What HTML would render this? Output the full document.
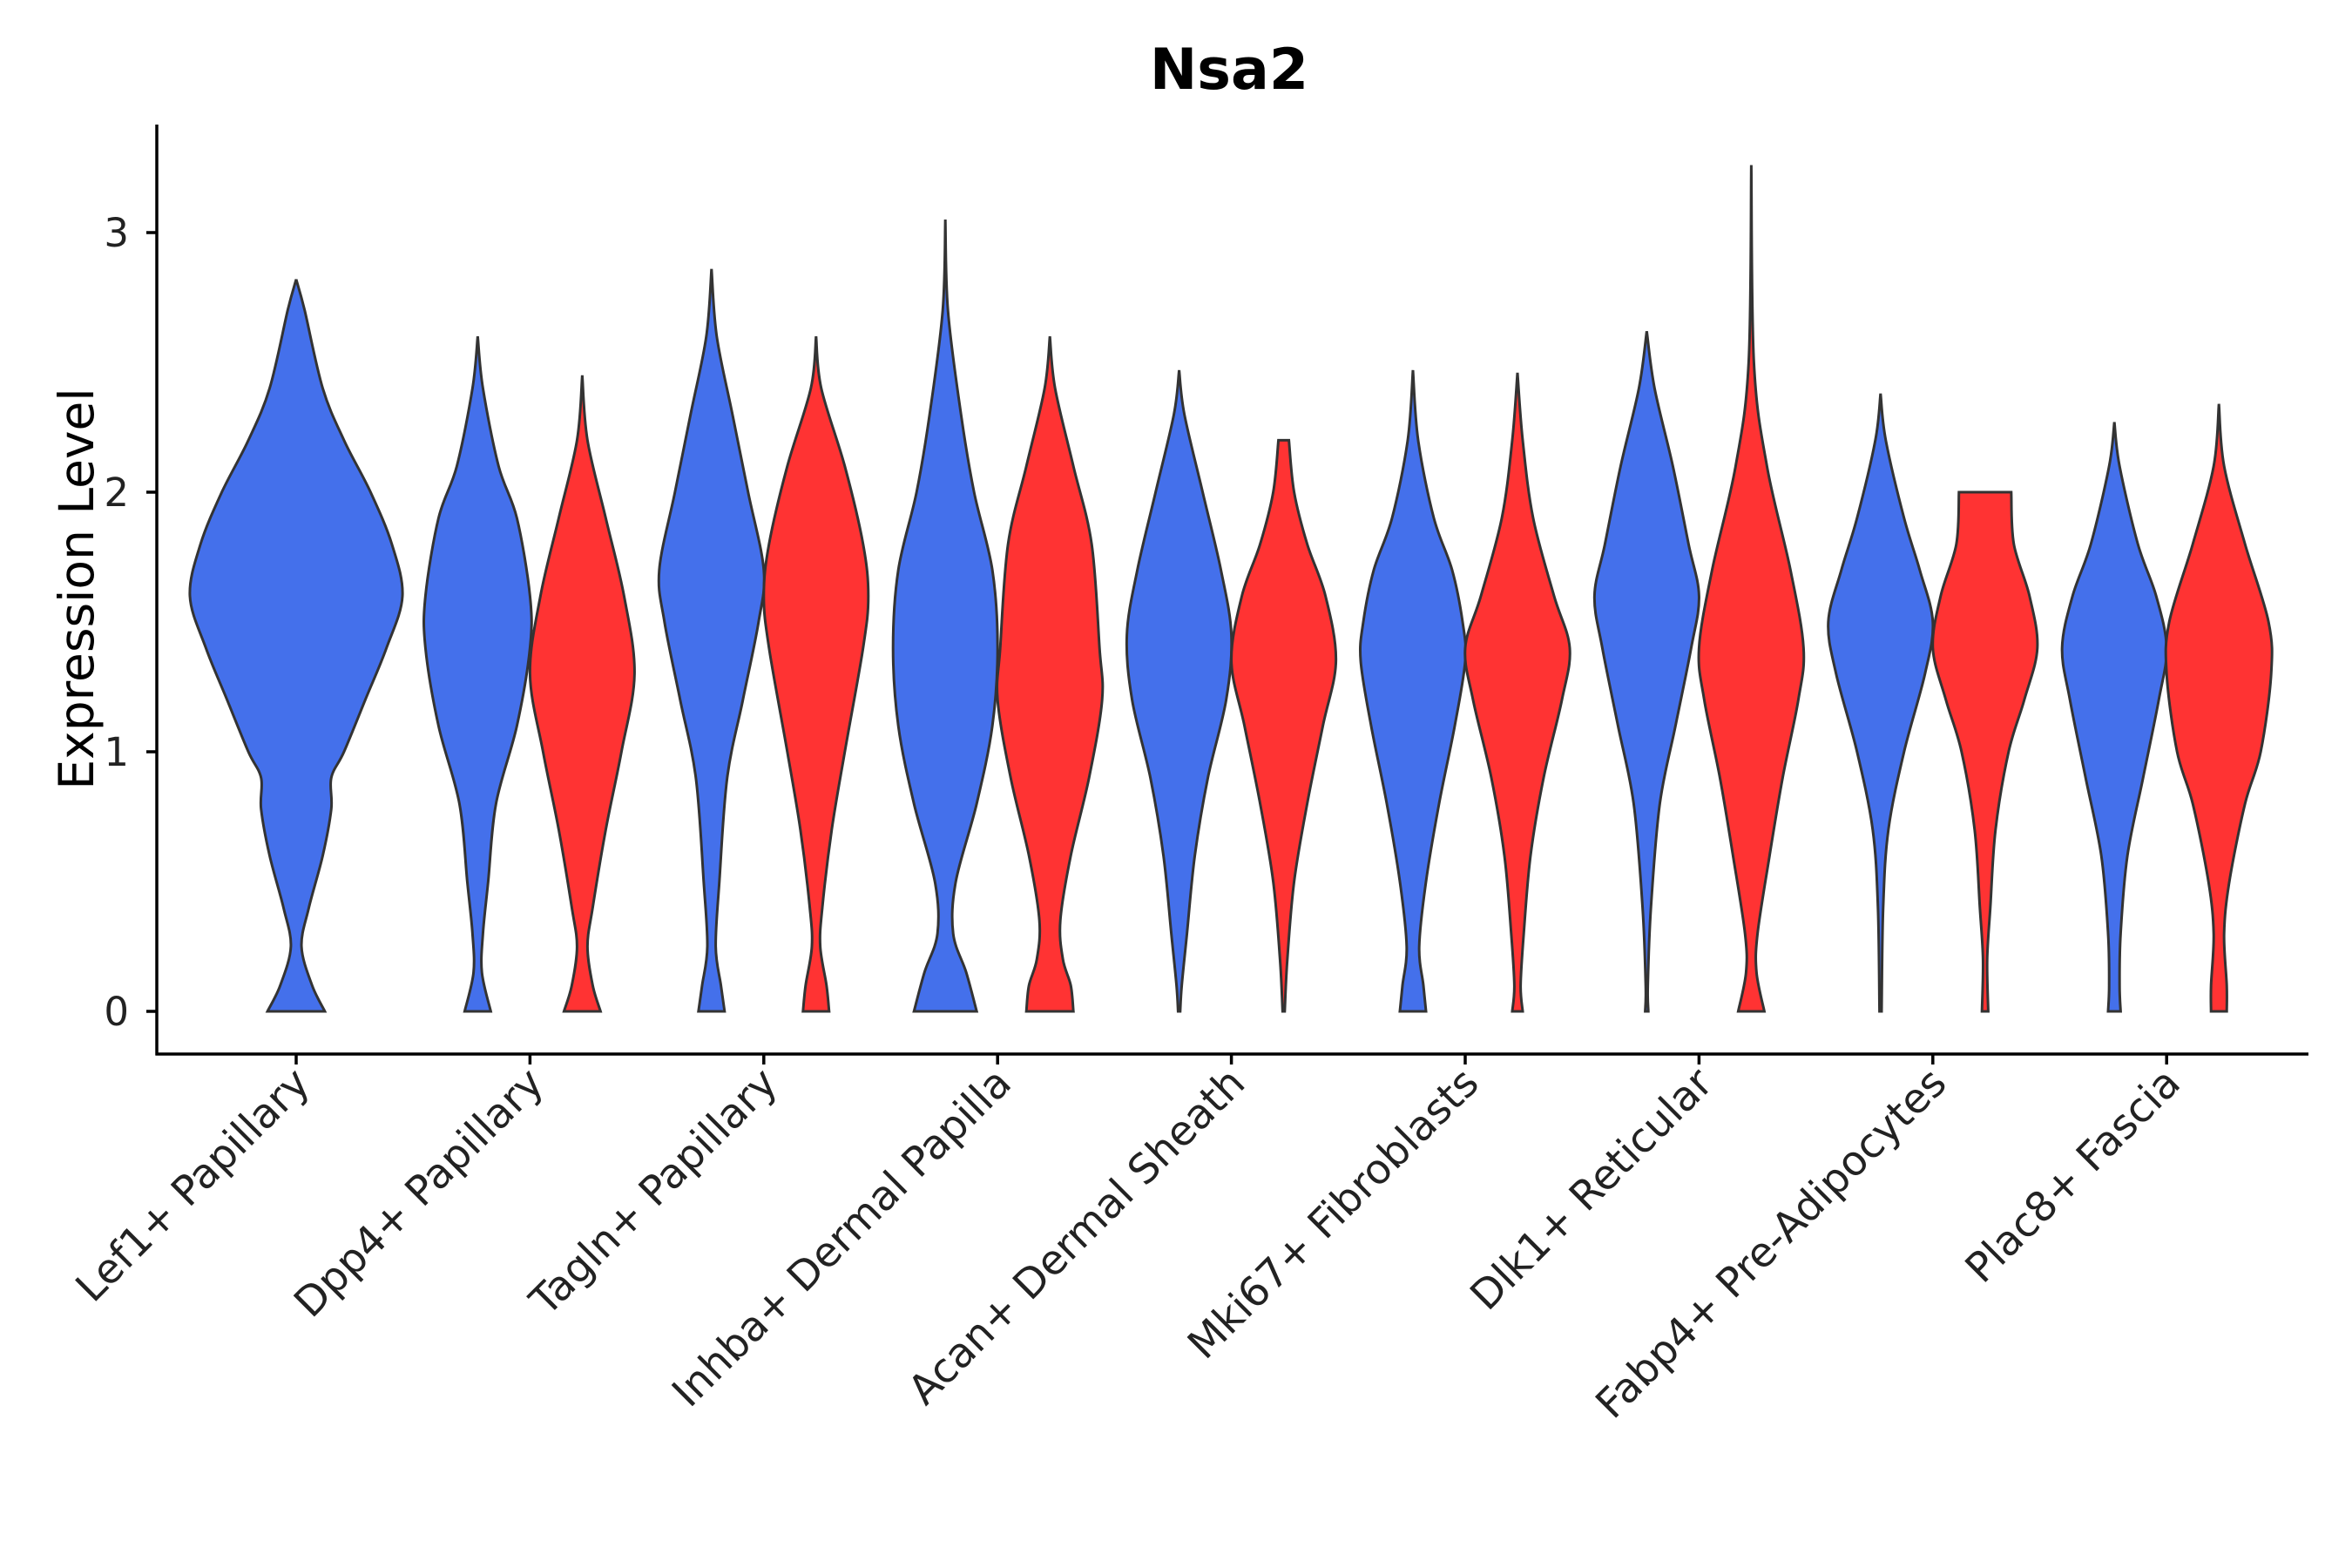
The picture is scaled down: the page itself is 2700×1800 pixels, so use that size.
<!DOCTYPE html>
<html>
<head>
<meta charset="utf-8">
<style>
html,body{margin:0;padding:0;background:#fff;}
svg{display:block;font-family:"DejaVu Sans","Liberation Sans",sans-serif;}
</style>
</head>
<body>
<svg id="chart" width="2700" height="1800" viewBox="0 0 2700 1800" xmlns="http://www.w3.org/2000/svg">
  <rect width="2700" height="1800" fill="#fff"/>
  <text x="1411" y="102" text-anchor="middle" font-size="65" font-weight="bold" fill="#000">Nsa2</text>
  <text transform="translate(107,676) rotate(-90)" text-anchor="middle" font-size="55" fill="#000">Expression Level</text>
  <g id="violins"></g>
  <g id="axes"></g>
</svg>
<script>
const categories = ["Lef1+ Papillary","Dpp4+ Papillary","Tagln+ Papillary","Inhba+ Dermal Papilla","Acan+ Dermal Sheath","Mki67+ Fibroblasts","Dlk1+ Reticular","Fabp4+ Pre-Adipocytes","Plac8+ Fascia"];
const yTicks = [0,1,2,3];
// density profiles: [expression value, relative half-width]
const blueProfiles = [
 [[2.82,0],[2.7,0.08],[2.4,0.25],[2.2,0.45],[2.0,0.7],[1.8,0.9],[1.6,1.0],[1.4,0.85],[1.2,0.65],[1.0,0.45],[0.9,0.33],[0.78,0.33],[0.6,0.25],[0.4,0.12],[0.25,0.05],[0.1,0.15],[0,0.27]],
 [[2.6,0],[2.4,0.1],[2.1,0.4],[1.9,0.75],[1.6,1.0],[1.4,1.0],[1.1,0.75],[0.8,0.35],[0.5,0.2],[0.3,0.1],[0.15,0.08],[0,0.25]],
 [[2.86,0],[2.6,0.1],[2.3,0.4],[2.0,0.7],[1.7,1.0],[1.5,0.9],[1.2,0.6],[0.9,0.3],[0.5,0.15],[0.25,0.08],[0.1,0.18],[0,0.25]],
 [[3.05,0],[2.7,0.05],[2.3,0.3],[2.0,0.55],[1.7,0.9],[1.4,1.0],[1.1,0.9],[0.8,0.6],[0.5,0.2],[0.3,0.15],[0.15,0.4],[0,0.6]],
 [[2.47,0],[2.3,0.1],[2.0,0.45],[1.7,0.8],[1.45,1.0],[1.2,0.9],[0.9,0.55],[0.6,0.3],[0.3,0.15],[0.1,0.05],[0,0.02]],
 [[2.47,0],[2.2,0.1],[1.9,0.4],[1.7,0.75],[1.5,0.95],[1.35,1.0],[1.1,0.8],[0.8,0.5],[0.5,0.25],[0.25,0.12],[0.1,0.2],[0,0.25]],
 [[2.62,0],[2.4,0.15],[2.1,0.5],[1.8,0.8],[1.6,1.0],[1.4,0.85],[1.1,0.55],[0.8,0.25],[0.4,0.08],[0.1,0.02],[0,0.03]],
 [[2.38,0],[2.2,0.1],[1.9,0.45],[1.7,0.75],[1.5,1.0],[1.3,0.85],[1.0,0.45],[0.7,0.15],[0.4,0.05],[0,0.02]],
 [[2.27,0],[2.1,0.1],[1.8,0.45],[1.6,0.8],[1.4,1.0],[1.2,0.85],[0.9,0.55],[0.6,0.25],[0.3,0.12],[0.1,0.1],[0,0.12]]
];
const redProfiles = [
 null,
 [[2.45,0],[2.2,0.1],[1.9,0.45],[1.6,0.8],[1.3,1.0],[1.0,0.75],[0.7,0.45],[0.4,0.2],[0.25,0.1],[0.1,0.2],[0,0.35]],
 [[2.6,0],[2.4,0.1],[2.1,0.55],[1.8,0.9],[1.6,1.0],[1.4,0.9],[1.0,0.55],[0.7,0.3],[0.4,0.12],[0.25,0.08],[0.1,0.2],[0,0.25]],
 [[2.6,0],[2.4,0.1],[2.1,0.45],[1.8,0.8],[1.4,0.95],[1.2,1.0],[0.9,0.75],[0.6,0.4],[0.35,0.2],[0.2,0.25],[0.1,0.4],[0,0.45]],
 [[2.2,0.1],[2.0,0.2],[1.8,0.45],[1.6,0.8],[1.35,1.0],[1.1,0.75],[0.8,0.45],[0.5,0.2],[0.2,0.07],[0,0.02]],
 [[2.46,0],[2.2,0.1],[1.9,0.3],[1.6,0.7],[1.4,1.0],[1.2,0.85],[0.9,0.5],[0.6,0.25],[0.3,0.12],[0.1,0.06],[0,0.1]],
 [[3.26,0],[2.5,0.05],[2.1,0.3],[1.7,0.75],[1.4,1.0],[1.2,0.9],[0.9,0.6],[0.6,0.35],[0.3,0.12],[0.15,0.1],[0,0.25]],
 [[2.0,0.5],[1.8,0.55],[1.6,0.85],[1.4,1.0],[1.2,0.75],[1.0,0.45],[0.7,0.2],[0.4,0.1],[0.2,0.04],[0,0.06]],
 [[2.34,0],[2.1,0.1],[1.8,0.5],[1.5,0.95],[1.3,1.0],[1.0,0.8],[0.8,0.5],[0.5,0.2],[0.3,0.1],[0.1,0.15],[0,0.15]]
];

const NS="http://www.w3.org/2000/svg";
const X0=180, X1=2650, Y_TOP=143, Y_AX=1210;
const xScale = i => 340 + i*268.4;
const yScale = v => 1161 - v*298;
const SPLIT_OFF=60, SPLIT_W=60, FULL_W=122;

function smoothSide(pts){
  let d="";
  for(let i=0;i<pts.length-1;i++){
    const p0=pts[Math.max(0,i-1)],p1=pts[i],p2=pts[i+1],p3=pts[Math.min(pts.length-1,i+2)];
    const c1=[p1[0]+(p2[0]-p0[0])/6,p1[1]+(p2[1]-p0[1])/6];
    const c2=[p2[0]-(p3[0]-p1[0])/6,p2[1]-(p3[1]-p1[1])/6];
    d+=` C${c1[0].toFixed(1)},${c1[1].toFixed(1)} ${c2[0].toFixed(1)},${c2[1].toFixed(1)} ${p2[0].toFixed(1)},${p2[1].toFixed(1)}`;
  }
  return d;
}
function violinPath(prof,cx,hw){
  const right=prof.map(p=>[cx+p[1]*hw,yScale(p[0])]);
  const left=prof.slice().reverse().map(p=>[cx-p[1]*hw,yScale(p[0])]);
  let d=`M${left[left.length-1][0]},${left[left.length-1][1]} L${right[0][0]},${right[0][1]}`;
  d+=smoothSide(right);
  d+=` L${left[0][0]},${left[0][1]}`;
  d+=smoothSide(left);
  return d+" Z";
}
const vg=document.getElementById("violins");
categories.forEach((c,i)=>{
  const cx=xScale(i);
  const red=redProfiles[i];
  const b=document.createElementNS(NS,"path");
  b.setAttribute("d", red? violinPath(blueProfiles[i],cx-SPLIT_OFF,SPLIT_W) : violinPath(blueProfiles[i],cx,FULL_W));
  b.setAttribute("fill","#4470EB");b.setAttribute("stroke","#333");b.setAttribute("stroke-width","3");
  
  
  vg.appendChild(b);
  if(red){
    const r=document.createElementNS(NS,"path");
    r.setAttribute("d",violinPath(red,cx+SPLIT_OFF,SPLIT_W));
    r.setAttribute("fill","#FF3333");r.setAttribute("stroke","#333");r.setAttribute("stroke-width","3");
    
    
    vg.appendChild(r);
  }
});
const ag=document.getElementById("axes");
function line(x1,y1,x2,y2,name){
  const l=document.createElementNS(NS,"line");
  l.setAttribute("x1",x1);l.setAttribute("y1",y1);l.setAttribute("x2",x2);l.setAttribute("y2",y2);
  l.setAttribute("stroke","#000");l.setAttribute("stroke-width","3.5");
  
  
  ag.appendChild(l);
}
line(X0,Y_TOP,X0,Y_AX+1.5,"y-axis-line");
line(X0-1.5,Y_AX,X1,Y_AX,"x-axis-line");
yTicks.forEach(v=>{
  const y=yScale(v);
  line(X0-12,y,X0,y,"y-tick");
  const t=document.createElementNS(NS,"text");
  t.setAttribute("x",148);t.setAttribute("y",y+16);t.setAttribute("text-anchor","end");
  t.setAttribute("font-size","45");t.setAttribute("fill","#222");
  t.textContent=v;
  
  
  ag.appendChild(t);
});
categories.forEach((c,i)=>{
  const x=xScale(i);
  line(x,Y_AX,x,Y_AX+12,"x-tick");
  const t=document.createElementNS(NS,"text");
  t.setAttribute("transform",`translate(${x+18},${Y_AX+36}) rotate(-45)`);
  t.setAttribute("text-anchor","end");t.setAttribute("font-size","47");t.setAttribute("fill","#222");
  t.textContent=c;
  
  
  ag.appendChild(t);
});
</script>
</body>
</html>
